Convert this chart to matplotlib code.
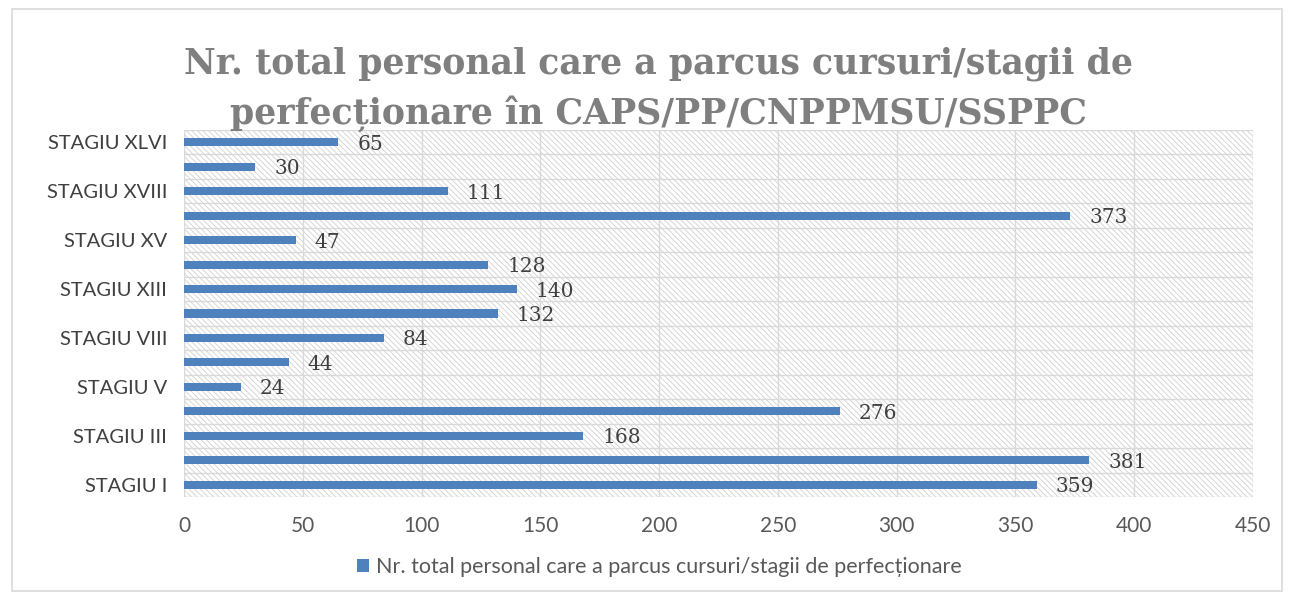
import matplotlib
matplotlib.use("Agg")
import matplotlib.pyplot as plt
from matplotlib.patches import Rectangle

categories = ["STAGIU I", "STAGIU II", "STAGIU III", "STAGIU IV", "STAGIU V", "STAGIU VI",
              "STAGIU VIII", "STAGIU X", "STAGIU XIII", "STAGIU XIV", "STAGIU XV", "STAGIU XVI",
              "STAGIU XVIII", "STAGIU XX", "STAGIU XLVI"]
values = [359, 381, 168, 276, 24, 44, 84, 132, 140, 128, 47, 373, 111, 30, 65]
shown_labels = [c if i % 2 == 0 else "" for i, c in enumerate(categories)]
xticks = [0, 50, 100, 150, 200, 250, 300, 350, 400, 450]
series_name = "Nr. total personal care a parcus cursuri/stagii de perfecționare"
title = "Nr. total personal care a parcus cursuri/stagii de\nperfecționare în CAPS/PP/CNPPMSU/SSPPC"

plt.rcParams['hatch.color'] = '#d0d0d0'
plt.rcParams['hatch.linewidth'] = 0.6

fig = plt.figure(figsize=(12.93, 5.99), dpi=100)
fig.patches.append(Rectangle((12/1293, 8/599), 1270/1293, 582/599, transform=fig.transFigure,
                             fill=False, edgecolor='#d9d9d9', linewidth=1.2))

ax = fig.add_axes([184/1293, 1 - 497/599, (1253 - 184)/1293, (497 - 130)/599])
ax.patch.set_facecolor('white')
ax.patch.set_hatch('\\\\\\\\\\\\')
ax.patch.set_edgecolor('#d0d0d0')

y = list(range(len(values)))
bars = ax.barh(y, values, height=0.33, color='#4f81bd', zorder=3, label=series_name)

ax.set_xlim(0, 450)
ax.set_ylim(-0.5, len(values) - 0.5)
ax.set_xticks(xticks)
ax.set_xticklabels([str(t) for t in xticks], fontsize=15, color='#595959', family='Lato')
ax.set_yticks(y)
ax.set_yticklabels(shown_labels, fontsize=14.5, color='#404040', family='Lato')
ax.tick_params(axis='both', length=0)
ax.tick_params(axis='x', pad=14)
ax.tick_params(axis='y', pad=12)

for v in xticks:
    ax.axvline(v, color='#d9d9d9', linewidth=1, zorder=1)
for k in range(len(values) + 1):
    ax.axhline(k - 0.5, color='#d9d9d9', linewidth=1, zorder=1)
for s in ax.spines.values():
    s.set_visible(False)

for yi, v in zip(y, values):
    ax.annotate(str(v), (v, yi), xytext=(19, -2), textcoords='offset pixels',
                va='center', ha='left', fontsize=14.5, color='#404040', family='DejaVu Serif')

fig.text(0.509, 1 - 89/599, title, ha='center', va='center', fontsize=25, fontweight='bold',
         color='#7f7f7f', family='DejaVu Serif', linespacing=1.5, zorder=10)

leg = fig.legend(handles=[bars], labels=[series_name], loc='center', bbox_to_anchor=(0.51, 1 - 567/599),
                 frameon=False, fontsize=15.5, handlelength=0.55, handleheight=0.55, handletextpad=0.3)
for t in leg.get_texts():
    t.set_color('#595959')
    t.set_family('Lato')

fig.savefig('out.png', dpi=100)
